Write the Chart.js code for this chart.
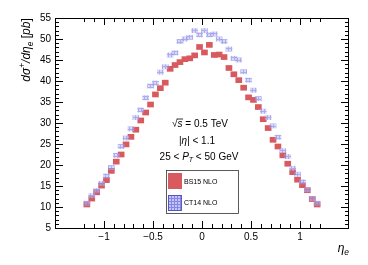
<!DOCTYPE html>
<html>
<head>
<meta charset="utf-8">
<script src="https://cdn.jsdelivr.net/npm/chart.js@4/dist/chart.umd.min.js"></script>
<style>
  html, body { margin: 0; padding: 0; background: #fff; }
  #c { display: block; }
</style>
</head>
<body>
<canvas id="c" width="368" height="265"></canvas>
<script>
// eta bin centres (bin width 0.05)
const etaBins = [
  -1.175, -1.125, -1.075, -1.025, -0.975, -0.925, -0.875, -0.825,
  -0.775, -0.725, -0.675, -0.625, -0.575, -0.525, -0.475, -0.425,
  -0.375, -0.325, -0.275, -0.225, -0.175, -0.125, -0.075, -0.025,
   0.025,  0.075,  0.125,  0.175,  0.225,  0.275,  0.325,  0.375,
   0.425,  0.475,  0.525,  0.575,  0.625,  0.675,  0.725,  0.775,
   0.825,  0.875,  0.925,  0.975,  1.025,  1.075,  1.125,  1.175
];

// BS15 NLO (red boxes)
const bs15 = [
  10.6, 12.0, 13.5, 15.1, 16.4, 18.6, 20.8, 22.5,
  24.9, 26.7, 28.4, 30.6, 32.5, 34.4, 36.8, 38.3,
  39.6, 42.9, 43.8, 44.5, 45.2, 45.4, 46.1, 48.1,
  46.8, 48.6, 46.2, 46.3, 45.7, 43.1, 41.6, 40.2,
  38.4, 36.1, 35.5, 33.8, 30.9, 28.8, 26.0, 24.4,
  22.3, 20.3, 18.3, 16.5, 15.2, 14.0, 11.9, 10.6
];

// CT14 NLO (blue hatched boxes)
const ct14 = [
  10.9, 12.7, 13.9, 15.6, 17.4, 19.4, 22.3, 24.4,
  26.4, 28.6, 31.3, 33.1, 36.0, 38.8, 39.5, 42.1,
  43.4, 46.2, 46.7, 49.4, 50.0, 50.4, 52.0, 51.0,
  52.0, 51.0, 51.2, 50.0, 49.4, 47.6, 45.4, 45.0,
  42.2, 40.2, 37.8, 35.8, 32.8, 31.3, 29.3, 26.6,
  23.4, 22.0, 19.2, 17.8, 16.0, 14.1, 12.0, 10.9
];

const xLabels = [-1, -0.5, 0, 0.5, 1];

const FONT = "'Liberation Sans', Arial, sans-serif";
const RED = '#d85a5f';

function hatchPattern(ctx, strong) {
  const c = document.createElement('canvas');
  c.width = 3; c.height = 3;
  const g = c.getContext('2d');
  g.fillStyle = strong ? 'rgba(160,160,240,0.6)' : 'rgba(185,185,245,0.55)';
  g.fillRect(0, 0, 3, 3);
  g.fillStyle = strong ? 'rgba(90,90,215,0.6)' : 'rgba(120,120,225,0.45)';
  g.fillRect(0, 0, 1, 3);
  g.fillRect(1, 0, 2, 1);
  return ctx.createPattern(c, 'repeat');
}

// draw a run of text pieces: {t, it, sub, sup}
function richText(ctx, parts, x, y, size, align) {
  const fontOf = p => (p.it ? 'italic ' : '') + (p.sub || p.sup ? size * 0.7 : size) + 'px ' + FONT;
  let w = 0;
  parts.forEach(p => { ctx.font = fontOf(p); p.w = ctx.measureText(p.t).width; w += p.w; });
  let cx = align === 'center' ? x - w / 2 : align === 'right' ? x - w : x;
  ctx.textBaseline = 'middle';
  ctx.textAlign = 'left';
  parts.forEach(p => {
    ctx.font = fontOf(p);
    let dy = p.sub ? size * 0.3 : p.sup ? -size * 0.35 : 0;
    ctx.fillText(p.t, cx, y + dy);
    if (p.over) {
      ctx.beginPath();
      ctx.lineWidth = 0.8;
      ctx.moveTo(cx - 1, y - size * 0.5);
      ctx.lineTo(cx + p.w + 0.5, y - size * 0.5);
      ctx.stroke();
    }
    cx += p.w;
  });
}

const decorations = {
  id: 'decorations',
  afterDatasetsDraw(chart) {
    const { ctx, chartArea: a, scales: { x, y } } = chart;
    ctx.save();
    ctx.strokeStyle = '#000';
    ctx.fillStyle = '#000';
    ctx.lineWidth = 1;

    // frame
    ctx.strokeRect(a.left + 0.5, a.top + 0.5, a.right - a.left - 1, a.bottom - a.top);

    // inward ticks
    ctx.beginPath();
    for (let k = -12; k <= 12; k++) {
      const px = Math.round(x.getPixelForValue(k / 10)) + 0.5;
      const len = k % 5 === 0 ? 7 : 4;
      ctx.moveTo(px, a.bottom); ctx.lineTo(px, a.bottom - len);
      ctx.moveTo(px, a.top); ctx.lineTo(px, a.top + len);
    }
    for (let v = 5; v <= 55; v++) {
      const py = Math.round(y.getPixelForValue(v)) + 0.5;
      const len = v % 5 === 0 ? 8 : 4;
      ctx.moveTo(a.left, py); ctx.lineTo(a.left + len, py);
      ctx.moveTo(a.right, py); ctx.lineTo(a.right - len, py);
    }
    ctx.stroke();

    // annotations
    richText(ctx, [{ t: '\u221A' }, { t: 's', it: true, over: true }, { t: ' = 0.5 TeV' }], 200, 124, 10, 'center');
    richText(ctx, [{ t: '|' }, { t: '\u03B7', it: true }, { t: '| < 1.1' }], 197, 141, 10, 'center');
    richText(ctx, [{ t: '25 < ' }, { t: 'P', it: true }, { t: 'T', it: true, sub: true }, { t: ' < 50 GeV' }], 199, 157, 10, 'center');

    // legend
    ctx.strokeStyle = '#333';
    ctx.strokeRect(166.5, 170.5, 72, 43);
    ctx.fillStyle = RED;
    ctx.fillRect(168, 173, 14, 16);
    ctx.fillStyle = hatchPattern(ctx, true);
    ctx.fillRect(168, 195, 14, 16);
    ctx.strokeStyle = '#4646c8';
    ctx.strokeRect(168.5, 195.5, 13, 15);
    ctx.fillStyle = '#000';
    richText(ctx, [{ t: 'BS15 NLO' }], 184, 182, 7, 'left');
    richText(ctx, [{ t: 'CT14 NLO' }], 184, 203, 7, 'left');

    // axis titles
    richText(ctx, [{ t: '\u03B7', it: true }, { t: 'e', it: true, sub: true }], 349, 249, 12, 'right');
    ctx.save();
    ctx.translate(27, 50);
    ctx.rotate(-Math.PI / 2);
    richText(ctx, [
      { t: 'd\u03C3', it: true }, { t: '+', sup: true }, { t: '/d\u03B7', it: true },
      { t: 'e', it: true, sub: true }, { t: ' [' }, { t: 'pb', it: true }, { t: ']' }
    ], 0, 0, 12, 'center');
    ctx.restore();
    ctx.restore();
  }
};

const ctx = document.getElementById('c').getContext('2d');

new Chart(ctx, {
  type: 'bar',
  data: {
    datasets: [
      {
        label: 'BS15 NLO',
        data: etaBins.map((e, i) => ({ x: e, y: [bs15[i] - 0.6, bs15[i] + 0.6] })),
        backgroundColor: RED,
        borderWidth: 0,
        barThickness: 6,
        grouped: false,
        order: 2
      },
      {
        label: 'CT14 NLO',
        data: etaBins.map((e, i) => ({ x: e, y: [ct14[i] - 0.5, ct14[i] + 0.5] })),
        backgroundColor: hatchPattern(ctx, false),
        borderWidth: 0,
        barThickness: 6,
        grouped: false,
        order: 1
      }
    ]
  },
  options: {
    responsive: false,
    animation: false,
    devicePixelRatio: 1,
    layout: { padding: { top: 18, right: 19, left: 0, bottom: 0 } },
    plugins: {
      legend: { display: false },
      tooltip: { enabled: false }
    },
    scales: {
      x: {
        type: 'linear',
        min: -1.2,
        max: 1.2,
        grid: { display: false, drawTicks: false },
        border: { display: false },
        afterBuildTicks: s => { s.ticks = xLabels.map(v => ({ value: v })); },
        afterFit: s => { s.height = 37; },
        ticks: {
          padding: 3,
          color: '#000',
          maxRotation: 0,
          font: { family: FONT, size: 10 },
          callback: v => String(v).replace('-', '\u2212')
        }
      },
      y: {
        min: 5,
        max: 55,
        grid: { display: false, drawTicks: false },
        border: { display: false },
        afterFit: s => { s.width = 55; },
        ticks: {
          stepSize: 5,
          padding: 4,
          color: '#000',
          font: { family: FONT, size: 10 }
        }
      }
    }
  },
  plugins: [decorations]
});
</script>
</body>
</html>
